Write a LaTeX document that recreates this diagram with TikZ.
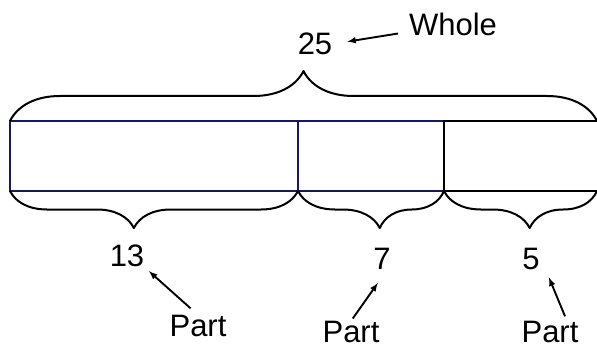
\documentclass[tikz,border=0pt]{standalone}
\usepackage{fontspec}
\setmainfont{Liberation Sans}
\usetikzlibrary{decorations.pathreplacing}
\definecolor[named]{BarNavy}{RGB}{24,24,92}
\newcommand{\lblfont}{\fontsize{31}{36}\selectfont}
\tikzset{
  lbl/.style={inner sep=0pt,font=\lblfont},
  ptr/.style={-latex,line width=1.9pt},
  brc/.style={decorate,line width=2pt,line join=round},
}

\begin{document}
\begin{tikzpicture}[x=1pt,y=-1pt]
  \path[use as bounding box] (0,0) rectangle (597,350);

  % Bar {{{
  \coordinate (TL) at (10,121);
  \coordinate (BL) at (10,191);
  \coordinate (T1) at (298,121);
  \coordinate (B1) at (298,191);
  \coordinate (T2) at (444,121);
  \coordinate (B2) at (444,191);
  \coordinate (TR) at (597,121);
  \coordinate (BR) at (597,191);
  \draw[BarNavy,line width=2.4pt] (T1) -- (TL) -- (BL) -- (B1) -- cycle;
  \draw[BarNavy,line width=2.4pt] (T1) -- (T2) (B1) -- (B2);
  \draw[line width=2.4pt] (TR) -- (T2) -- (B2) -- (BR);
  % }}}

  % Braces {{{
  \draw[brc,decoration={brace,amplitude=50pt}] (TL) -- (TR);
  \draw[brc,decoration={brace,mirror,amplitude=37pt,aspect=0.43}] (BL) -- (B1);
  \draw[brc,decoration={brace,mirror,amplitude=37pt,aspect=0.56}] (B1) -- (B2);
  \draw[brc,decoration={brace,mirror,amplitude=37pt,aspect=0.56}] (B2) -- (BR);
  % }}}

  % Labels {{{
  \node[lbl] (total) at (315,44) {25};
  \node[lbl] (wholelbl) at (453,24) {Whole};
  \node[lbl] (n13) at (127,256) {13};
  \node[lbl] (n7) at (382,259) {7};
  \node[lbl] (n5) at (531,259) {5};
  \node[lbl] (part1) at (198,326) {Part};
  \node[lbl] (part2) at (351,332) {Part};
  \node[lbl] (part3) at (550,332) {Part};

  \draw[ptr,shorten <=11pt,shorten >=15pt] (wholelbl.190) -- (total.east);
  \draw[ptr,shorten <=10pt,shorten >=6pt] (part1.north) -- (n13.south east);
  \draw[ptr,shorten <=3pt,shorten >=16pt] (part2.north) -- (n7.-65);
  \draw[ptr,shorten <=5pt,shorten >=8pt] (part3.33) -- ([xshift=6pt]n5.south east);
  % }}}
\end{tikzpicture}
\end{document}
